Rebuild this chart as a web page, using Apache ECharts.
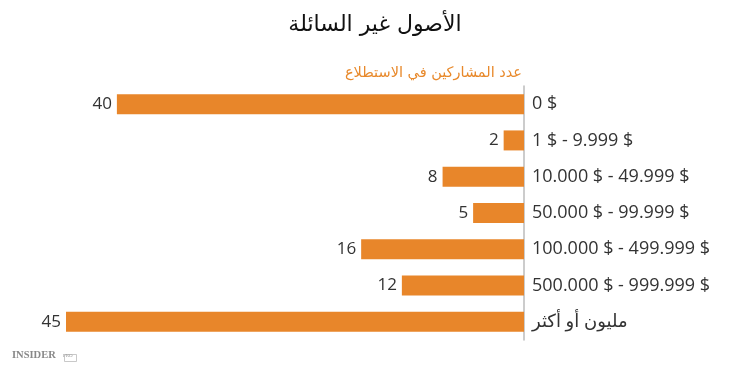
<!DOCTYPE html>
<html><head><meta charset="utf-8">
<script src="https://cdn.jsdelivr.net/npm/echarts@6/dist/echarts.min.js"></script>
<style>html,body{margin:0;padding:0;background:#fff}#c{width:750px;height:373px}</style>
</head><body><div id="c"></div>
<script>
const titleText = 'الأصول غير السائلة';
const subtitleText = 'عدد المشاركين في الاستطلاع';
const categories = ['0 $', '1 $ - 9.999 $', '10.000 $ - 49.999 $', '50.000 $ - 99.999 $', '100.000 $ - 499.999 $', '500.000 $ - 999.999 $', 'مليون أو أكثر'];
const values = [40, 2, 8, 5, 16, 12, 45];

const chart = echarts.init(document.getElementById('c'));
chart.setOption({
  animation: false,
  title: [
    {text: titleText, left: 'center', top: 9, textStyle: {fontFamily: 'DejaVu Sans', fontSize: 22, fontWeight: 'normal', color: '#111'}},
    {text: subtitleText, right: 223, top: 61, textStyle: {fontFamily: 'DejaVu Sans', fontSize: 14.5, fontWeight: 'normal', color: '#E8892B'}}
  ],
  grid: {left: 66, right: 226, top: 86, bottom: 33},
  xAxis: {type: 'value', min: 0, max: 45, inverse: true, show: false},
  yAxis: {
    type: 'category', data: categories, inverse: true, position: 'right',
    axisLine: {show: true, lineStyle: {color: '#bbb', width: 1.5}},
    axisTick: {show: false},
    axisLabel: {margin: 8, color: '#333', fontSize: 18, fontFamily: 'Open Sans, DejaVu Sans', align: 'left'}
  },
  series: [{
    type: 'bar', data: values, barWidth: 20,
    itemStyle: {color: '#E8862A'},
    label: {show: true, position: 'left', distance: 5, color: '#333', fontSize: 17, fontFamily: 'Open Sans'}
  }],
  graphic: [
    {type: 'text', left: 12, top: 350, style: {text: 'INSIDER', font: 'bold 10.5px "Liberation Serif"', fill: '#888'}},
    {type: 'rect', left: 62, top: 352, shape: {width: 12, height: 7}, style: {fill: 'none', stroke: '#bbb', lineWidth: 0.8}},
    {type: 'text', left: 63, top: 353, style: {text: 'PRO', font: '5px "Liberation Serif"', fill: '#999'}}
  ]
});
</script></body></html>
